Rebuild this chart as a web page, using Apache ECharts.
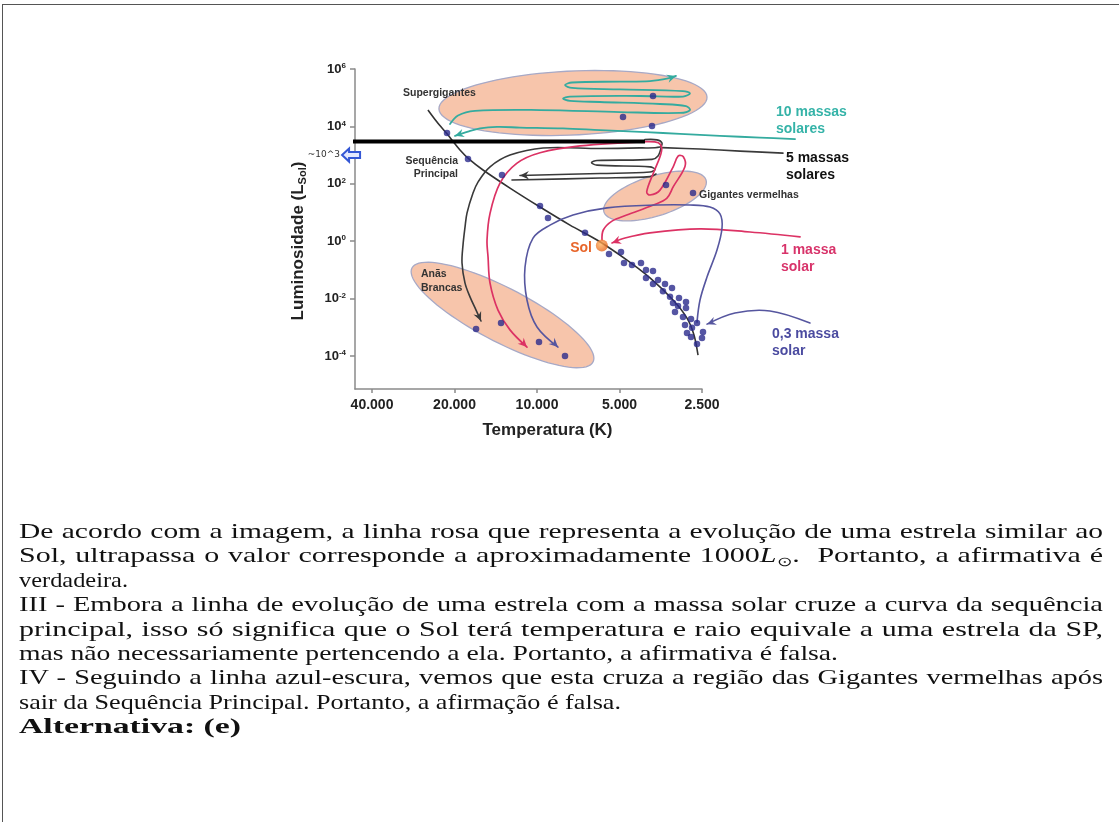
<!DOCTYPE html>
<html lang="pt-BR">
<head>
<meta charset="utf-8">
<title>Diagrama H-R</title>
<script src="https://cdn.jsdelivr.net/npm/echarts@6.0.0/dist/echarts.min.js"></script>
<style>
  html, body { margin: 0; padding: 0; background: #fff; overflow: hidden; }
  #frame { position: absolute; left: 2px; top: 4px; width: 1300px; height: 1000px;
           border-left: 1.5px solid #555; border-top: 1.5px solid #555; }
  #chart { position: absolute; left: 0; top: 0; width: 1119px; height: 822px; }
  #txt { position: absolute; left: 19px; top: 519px; width: 1084px; z-index: 2;
         font-family: "Liberation Serif", "Times New Roman", serif; font-size: 21px; color: #111; }
  #txt .ln { display: block; height: 24.4px; line-height: 24.4px; white-space: nowrap; transform-origin: 0 50%; }
  #txt sub { font-size: 13px; line-height: 0; vertical-align: -4px; }
</style>
</head>
<body>
<div id="frame"></div>
<div id="chart"></div>
<div id="txt">
  <div class="ln j"><span>De acordo com a imagem, a linha rosa que representa a evolução de uma estrela similar ao</span></div>
  <div class="ln j"><span>Sol, ultrapassa o valor corresponde a aproximadamente 1000<i>L</i><sub>⊙</sub>.&nbsp; Portanto, a afirmativa é</span></div>
  <div class="ln" data-w="109"><span>verdadeira.</span></div>
  <div class="ln j"><span>III - Embora a linha de evolução de uma estrela com a massa solar cruze a curva da sequência</span></div>
  <div class="ln j"><span>principal, isso só significa que o Sol terá temperatura e raio equivale a uma estrela da SP,</span></div>
  <div class="ln" data-w="819"><span>mas não necessariamente pertencendo a ela. Portanto, a afirmativa é falsa.</span></div>
  <div class="ln j"><span>IV - Seguindo a linha azul-escura, vemos que esta cruza a região das Gigantes vermelhas após</span></div>
  <div class="ln" data-w="602"><span>sair da Sequência Principal. Portanto, a afirmação é falsa.</span></div>
  <div class="ln" data-w="222"><span><b>Alternativa: (e)</b></span></div>
</div>
<script>
// ---- values: temperature in K, luminosity as log10(L / L_sun) ----
const tempTicks = [2500, 5000, 10000, 20000, 40000];
const lumTicks = [-4, -2, 0, 2, 4, 6];

const mainSequence = [[25000,4.57],[23170,4.15],[21300,3.74],[19100,3.18],[17560,2.83],[15740,2.48],
  [12550,1.85],[9750,1.19],[7580,0.56],[6040,0.04],[4695,-0.66],[3870,-1.28],[3190,-2.05],
  [2836,-2.68],[2674,-3.27],[2585,-3.97]];

const supergiantStars = [[3774,5.06],[4855,4.33],[3805,4.01]];
const giantStars = [[3383,1.96],[2696,1.68]];
const sequenceStars = [[21300,3.77],[17860,2.86],[13420,2.31],[9750,1.23],[9117,0.81],[6680,0.29],
  [5461,-0.45],[4937,-0.38],[4814,-0.76],[4502,-0.83],[4174,-0.76],[4002,-1.00],[3774,-1.04],
  [4002,-1.28],[3618,-1.35],[3774,-1.49],[3412,-1.49],[3470,-1.74],[3217,-1.63],[3271,-1.94],
  [3033,-1.98],[2860,-2.12],[3190,-2.15],[3059,-2.26],[2860,-2.33],[3137,-2.47],[2933,-2.64],
  [2742,-2.71],[2607,-2.85],[2884,-2.92],[2719,-3.02],[2479,-3.16],[2836,-3.20],[2500,-3.37],
  [2742,-3.34],[2607,-3.58]];
const whiteDwarfStars = [[16690,-3.06],[13530,-2.85],[9833,-3.51],[7904,-4.00]];
const sun = [[5800,-0.15]];

// regions: centre T, centre logL, end of major axis T, logL, half minor axis (decades)
const supergiantZone = [7392, 4.815, 2397, 5.024, 1.115];
const giantZone = [3711, 1.575, 2417, 2.132, 0.697];
const dwarfZone = [13363, -2.571, 6245, -4.209, 0.94];

// evolutionary tracks
const track10 = [[20770,4.08],[19420,4.38],[16840,4.54],[9750,4.57],[4980,4.50],[3008,4.47],[2765,4.57],
  [2860,4.71],[3558,4.78],[5890,4.85],[7580,4.89],[8037,4.97],[7580,5.04],[4209,5.06],[2933,5.04],
  [2765,5.15],[2933,5.23],[4980,5.29],[7452,5.34],[7904,5.44],[7452,5.53],[4980,5.56],[3870,5.58],
  [3327,5.67],[3111,5.76]];
const pointer10 = [[1144,3.56],[1536,3.61],[2149,3.67],[3008,3.74],[4002,3.80],[5890,3.87],[8037,3.93],
  [11540,3.96],[13990,3.98],[16140,3.93],[17860,3.82],[19920,3.67]];

const track5 = [[4036,3.54],[3649,3.53],[3499,3.42],[3558,3.28],[4209,3.25],[5890,3.23],[9508,3.25],
  [12550,3.00],[14840,2.59],[16420,2.06],[17120,1.68],[18010,0.98],[18310,0.49],[18620,-0.13],
  [18780,-0.76],[18310,-1.46],[17560,-1.94],[16690,-2.40],[16010,-2.78]];
const loop5 = [[3528,3.25],[3618,2.97],[3805,2.85],[6040,2.81],[6326,2.74],[6040,2.65],[3870,2.59],
  [3711,2.50],[3870,2.41],[5890,2.36],[11540,2.29]];
const branch5 = [[12340,2.13],[5890,2.20],[3870,2.25],[3680,2.34]];
const pointer5 = [[1266,3.07],[1817,3.14],[2542,3.21],[3499,3.26]];

const track1 = [[5792,0.04],[5729,0.39],[5326,0.70],[4707,0.91],[3764,1.26],[3363,1.49],[3182,1.90],
  [2884,2.60],[2925,2.94],[3051,2.97],[3182,2.60],[3558,1.78],[3870,1.61],[3978,1.72],[3764,2.37],
  [3558,2.94],[3508,3.24],[3609,3.43],[3978,3.47],[6968,3.32],[9750,3.08],[11860,2.71],[13650,2.02],
  [14840,0.97],[15220,0.04],[15090,-0.55],[14840,-1.46],[13880,-2.40],[12550,-3.09],[10880,-3.69]];
const pointer1 = [[1097,0.15],[1670,0.32],[2542,0.43],[3870,0.29],[4774,0.11],[5326,-0.06]];

const track03 = [[2607,-2.82],[2542,-2.05],[2397,-1.25],[2204,-0.31],[2113,0.46],[2149,0.95],[2337,1.19],
  [2765,1.26],[3649,1.26],[5554,1.16],[7390,0.91],[8966,0.56],[10340,0.11],[11060,-0.90],[10880,-2.05],
  [10000,-2.99],[8383,-3.69]];
const pointer03 = [[1009,-2.85],[1412,-2.43],[1895,-2.50],[2397,-2.89]];

// level reached by the 1 M_sun track, and the ~10^3 marker on the axis
const levelBar = [[49000,3.47],[4036,3.47]];
const levelMark = [[47700,3.0]];

// ---- drawing ----
const F = '"Liberation Sans", Arial, sans-serif';
const T0 = 2500;
const toX = T => Math.log2(T / T0);
const xy = pts => pts.map(p => [toX(p[0]), p[1]]);

const C = {
  teal: '#34ab9f', tealText: '#35b3a8',
  black: '#3a3a3a', pink: '#dc3264', pinkText: '#d8336a',
  blue: '#56569f', blueText: '#4b4ba0', dot: '#2a2a8c',
  zoneFill: '#f7c5ab', zoneEdge: '#a7a9c6', axis: '#8a8a8a'
};

function pathSeries(name, pts, color, width, arrow, z) {
  const data = xy(pts);
  return {
    type: 'custom', name, z, silent: true, data,
    encode: { x: 0, y: 1 },
    renderItem(params, api) {
      if (params.dataIndex !== 0) return null;
      const px = data.map(d => api.coord(d));
      const kids = [{
        type: 'polyline', shape: { points: px, smooth: 0.35 },
        style: { stroke: color, lineWidth: width, fill: null, lineJoin: 'round', lineCap: 'round' }
      }];
      if (arrow) {
        const a = px[px.length - 1], b = px[px.length - 2];
        const ang = Math.atan2(a[1] - b[1], a[0] - b[0]);
        const c = Math.cos(ang), s = Math.sin(ang);
        const L = 9, W = 4.2, notch = 3;
        const bx = a[0] - c * L, by = a[1] - s * L;
        kids.push({
          type: 'polygon',
          shape: { points: [a, [bx - s * W, by + c * W], [a[0] - c * (L - notch), a[1] - s * (L - notch)], [bx + s * W, by - c * W]] },
          style: { fill: color }
        });
      }
      return { type: 'group', children: kids };
    }
  };
}

function zoneSeries(zones) {
  return {
    type: 'custom', name: 'regiões', z: 1, silent: true,
    data: zones.map(zn => [toX(zn[0]), zn[1], toX(zn[2]), zn[3], zn[4]]),
    encode: { x: [0, 2], y: [1, 3] },
    renderItem(params, api) {
      const c = api.coord([api.value(0), api.value(1)]);
      const e = api.coord([api.value(2), api.value(3)]);
      const a = Math.hypot(e[0] - c[0], e[1] - c[1]);
      const b = api.size([0, api.value(4)])[1];
      const th = Math.atan2(e[1] - c[1], e[0] - c[0]);
      const pts = [];
      for (let k = 0; k < 90; k++) {
        const t = k / 90 * 2 * Math.PI;
        const x = a * Math.cos(t), y = b * Math.sin(t);
        pts.push([c[0] + x * Math.cos(th) - y * Math.sin(th), c[1] + x * Math.sin(th) + y * Math.cos(th)]);
      }
      return { type: 'polygon', shape: { points: pts },
               style: { fill: C.zoneFill, stroke: C.zoneEdge, lineWidth: 1.3 } };
    }
  };
}

function starSeries(name, pts) {
  return { type: 'scatter', name, data: xy(pts), symbol: 'circle', symbolSize: 6.5, clip: false, z: 6,
           silent: true, itemStyle: { color: C.dot } };
}

const tempLabel = v => String(Math.round(T0 * Math.pow(2, v))).replace(/\B(?=(\d{3})+(?!\d))/g, '.');

function note(text, x, y, color, size, align) {
  return { type: 'text', x, y, z: 20, silent: true,
    style: { text, fill: color, font: 'bold ' + size + 'px ' + F,
             textAlign: align || 'left', textVerticalAlign: 'middle',
             align: align || 'left', verticalAlign: 'middle' } };
}

const chart = echarts.init(document.getElementById('chart'), null, { renderer: 'canvas' });

chart.setOption({
  animation: false,
  backgroundColor: 'transparent',
  grid: { left: 355, right: 417, top: 69, bottom: 433, containLabel: false },
  xAxis: {
    type: 'value', inverse: true, min: 0, max: toX(46150),
    splitLine: { show: false },
    axisLine: { onZero: false, lineStyle: { color: C.axis, width: 1.5 } },
    axisTick: { customValues: tempTicks.map(toX), length: 4, lineStyle: { color: C.axis, width: 1.5 } },
    axisLabel: { customValues: tempTicks.map(toX), formatter: tempLabel, margin: 9,
                 fontFamily: F, fontWeight: 'bold', fontSize: 14, color: '#222' },
    name: 'Temperatura (K)', nameLocation: 'middle', nameGap: 33,
    nameTextStyle: { fontFamily: F, fontWeight: 'bold', fontSize: 17, color: '#222', padding: [0, 0, 0, 38] }
  },
  yAxis: {
    type: 'value', min: -5.15, max: 6,
    splitLine: { show: false },
    axisLine: { onZero: false, lineStyle: { color: C.axis, width: 1.5 } },
    axisTick: { customValues: lumTicks, length: 5, lineStyle: { color: C.axis, width: 1.5 } },
    axisLabel: {
      customValues: lumTicks, margin: 9,
      formatter: v => '{b|10}{s|' + v + '}',
      rich: {
        b: { fontFamily: F, fontWeight: 'bold', fontSize: 13, color: '#222', lineHeight: 14 },
        s: { fontFamily: F, fontWeight: 'bold', fontSize: 8, color: '#222', lineHeight: 8, verticalAlign: 'top' }
      }
    },
    name: '{a|Luminosidade (L}{u|Sol}{a|)}', nameLocation: 'middle', nameGap: 47, nameRotate: 90,
    nameTextStyle: {
      fontFamily: F, fontWeight: 'bold', fontSize: 17, color: '#222', padding: [0, 24, 0, 0],
      rich: {
        a: { fontFamily: F, fontWeight: 'bold', fontSize: 17, color: '#222', lineHeight: 20 },
        u: { fontFamily: F, fontWeight: 'bold', fontSize: 11, color: '#222', lineHeight: 20, verticalAlign: 'bottom', padding: [6, 0, 0, 0] }
      }
    }
  },
  series: [
    zoneSeries([supergiantZone, giantZone, dwarfZone]),
    { type: 'line', name: 'Sequência Principal', data: xy(mainSequence), smooth: 0.3, symbol: 'none',
      clip: false, z: 2, silent: true, lineStyle: { color: '#333', width: 1.6 } },
    pathSeries('10 massas solares', track10, C.teal, 1.8, true, 3),
    pathSeries('10 massas solares (indicador)', pointer10, C.teal, 1.8, true, 3),
    pathSeries('5 massas solares', track5, C.black, 1.6, true, 3),
    pathSeries('5 massas solares (laço)', loop5, C.black, 1.6, true, 3),
    pathSeries('5 massas solares (ramo)', branch5, C.black, 1.6, false, 3),
    pathSeries('5 massas solares (indicador)', pointer5, C.black, 1.6, false, 3),
    pathSeries('1 massa solar', track1, C.pink, 1.7, true, 3),
    pathSeries('1 massa solar (indicador)', pointer1, C.pink, 1.7, true, 3),
    pathSeries('0,3 massa solar', track03, C.blue, 1.6, true, 3),
    pathSeries('0,3 massa solar (indicador)', pointer03, C.blue, 1.6, true, 3),
    { type: 'line', name: 'nível', data: xy(levelBar), symbol: 'none', clip: false, z: 4, silent: true,
      lineStyle: { color: '#000', width: 4, cap: 'butt' } },
    {
      type: 'custom', name: '~10^3', z: 8, silent: true, data: xy(levelMark), encode: { x: 0, y: 1 },
      renderItem(params, api) {
        const p = api.coord([api.value(0), api.value(1)]);
        const cx = p[0], cy = p[1];
        return { type: 'group', children: [
          { type: 'polygon',
            shape: { points: [[cx - 9, cy], [cx - 2, cy - 6.5], [cx - 2, cy - 3], [cx + 9, cy - 3],
                              [cx + 9, cy + 3], [cx - 2, cy + 3], [cx - 2, cy + 6.5]] },
            style: { fill: '#e4e9ff', stroke: '#3457d5', lineWidth: 2, lineJoin: 'miter' } },
          { type: 'text', x: cx - 11, y: cy,
            style: { text: '~10^3', fill: '#333', font: '9px "DejaVu Sans", sans-serif',
                     textAlign: 'right', textVerticalAlign: 'middle', align: 'right', verticalAlign: 'middle' } }
        ] };
      }
    },
    starSeries('supergigantes', supergiantStars),
    starSeries('gigantes vermelhas', giantStars),
    starSeries('sequência principal', sequenceStars),
    starSeries('anãs brancas', whiteDwarfStars),
    { type: 'scatter', name: 'Sol', data: xy(sun), symbolSize: 12, clip: false, z: 7, silent: true,
      itemStyle: { color: new echarts.graphic.RadialGradient(0.4, 0.4, 0.65,
        [{ offset: 0, color: '#ffb15c' }, { offset: 1, color: '#e5621a' }]) } }
  ],
  graphic: [
    note('Supergigantes', 403, 93, '#333', 10.5),
    note('Sequência', 458, 161, '#333', 10.5, 'right'),
    note('Principal', 458, 174, '#333', 10.5, 'right'),
    note('Gigantes vermelhas', 699, 195, '#333', 10.5),
    note('Anãs', 421, 274, '#333', 10.5),
    note('Brancas', 421, 288, '#333', 10.5),
    note('Sol', 592, 248, '#e8652a', 14, 'right'),
    note('10 massas', 776, 112.5, C.tealText, 14),
    note('solares', 776, 129.5, C.tealText, 14),
    note('5 massas', 786, 158, '#111', 14),
    note('solares', 786, 175, '#111', 14),
    note('1 massa', 781, 250, C.pinkText, 14),
    note('solar', 781, 267, C.pinkText, 14),
    note('0,3 massa', 772, 334, C.blueText, 14),
    note('solar', 772, 351, C.blueText, 14)
  ]
});

// ---- paragraph: stretch the serif face to the column; full lines are justified ----
function fitText() {
  const W = 1084;
  document.querySelectorAll('#txt .ln').forEach(el => {
    const nat = el.firstElementChild.getBoundingClientRect().width;
    let s;
    if (el.classList.contains('j')) {
      s = W / nat * 0.985;
      el.style.width = (W / s) + 'px';
      el.style.textAlign = 'justify';
      el.style.textAlignLast = 'justify';
    } else {
      s = Number(el.dataset.w) / nat;
    }
    el.style.transform = 'scaleX(' + s + ')';
  });
}
fitText();
</script>
</body>
</html>
